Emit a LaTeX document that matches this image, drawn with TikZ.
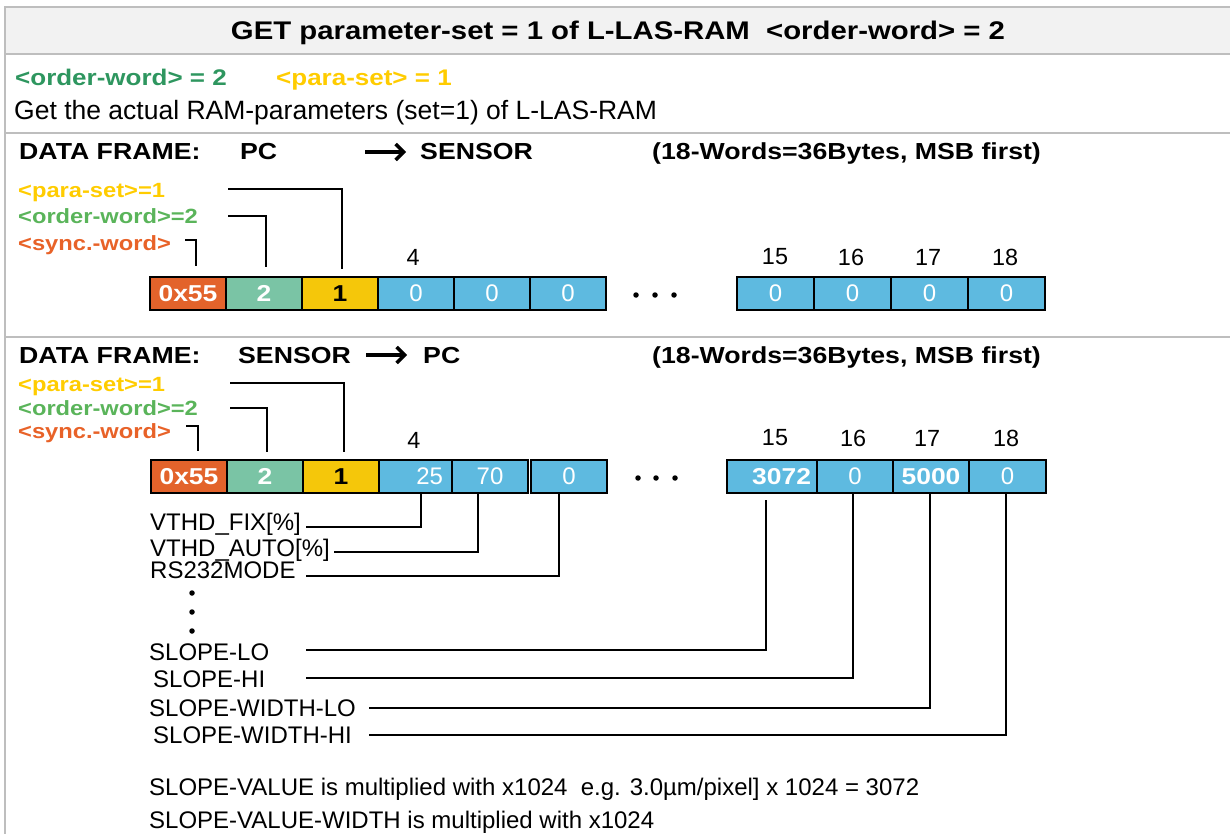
\documentclass[tikz,border=0pt]{standalone}
\usepackage{fontspec}
\setmainfont{Liberation Sans}
\newfontfamily\widefont{Liberation Sans}[FakeStretch=1.15]
\usepackage{tikz}
\usetikzlibrary{positioning,arrows.meta}

\definecolor{ruleGray}{RGB}{190,190,190}
\definecolor{headGray}{RGB}{242,242,242}
\definecolor{ordGreen}{RGB}{46,150,95}
\definecolor{setYellow}{RGB}{255,204,0}
\definecolor{lblGreen}{RGB}{90,180,90}
\definecolor{lblOrange}{RGB}{232,98,40}
\definecolor{cOrange}{RGB}{227,99,43}
\definecolor{cGreen}{RGB}{122,196,165}
\definecolor{cYellow}{RGB}{245,199,10}
\definecolor{cBlue}{RGB}{94,186,224}

\begin{document}
\begin{tikzpicture}[
  x=1pt, y=-1pt, >=Stealth,
  rule/.style={draw=ruleGray, line width=2pt},
  txt/.style={anchor=base west, inner sep=0pt, font=\fontsize{24}{28}\selectfont},
  bold/.style={anchor=base west, inner sep=0pt, font=\widefont\bfseries\fontsize{23.2}{28}\selectfont},
  lbl/.style={anchor=base west, inner sep=0pt, font=\widefont\bfseries\fontsize{20.6}{24}\selectfont},
  idx/.style={inner sep=0pt, font=\fontsize{23.4}{28}\selectfont},
  cell/.style={draw=black, line width=2.8pt, minimum height=33pt, inner sep=0pt,
               text=white, font=\fontsize{24}{28}\selectfont},
  bcell/.style={cell, font=\widefont\bfseries\fontsize{23}{28}\selectfont},
  dot/.style={circle, fill=black, inner sep=0pt, minimum size=5.5pt},
  lead/.style={line width=1.3pt},
  arr/.style={-{Straight Barb[length=8pt,width=16pt,line width=3.5pt]}, line width=3.8pt},
]
\useasboundingbox (0,0) rectangle (1230,834);

% frame
\draw[rule, fill=headGray] (5,7) rectangle (1240,54);
\draw[rule] (5,7) -- (5,840);
\draw[rule] (5,133) -- (1240,133);
\draw[rule] (5,337) -- (1240,337);

\node[anchor=base, inner sep=0pt, font=\widefont\bfseries\fontsize{25.5}{30}\selectfont]
  (title) at (618,40) {GET parameter-set = 1 of L-LAS-RAM\ \ <order-word> = 2};
\node[bold, text=ordGreen, font=\widefont\bfseries\fontsize{22.6}{26}\selectfont] (ow) at (15,86) {<order-word> = 2};
\node[bold, text=setYellow, font=\widefont\bfseries\fontsize{22.6}{26}\selectfont] (ps) at (276,86) {<para-set> = 1};
\node[txt, font=\fontsize{26.5}{30}\selectfont] (desc) at (14,119.5) {Get the actual RAM-parameters (set=1) of L-LAS-RAM};

% PC -> SENSOR
\node[bold] (df1) at (19,160) {DATA FRAME:};
\node[bold] (pc1) at (240,160) {PC};
\node[bold] (sn1) at (420,160) {SENSOR};
\node[bold] (sz1) at (652,160) {(18-Words=36Bytes, MSB first)};
\coordinate (ar1a) at (365,152);
\coordinate (ar1b) at (406,152);
\draw[arr] (ar1a) -- (ar1b);

\node[lbl, text=setYellow] (lp1) at (18,197.5) {<para-set>=1};
\node[lbl, text=lblGreen] (lo1) at (18,224) {<order-word>=2};
\node[lbl, text=lblOrange] (ls1) at (18,250.5) {<sync.-word>};

\node[bcell, fill=cOrange, minimum width=76pt] (a1) at (188,293.5) {0x55};
\node[bcell, fill=cGreen, minimum width=76pt] (a2) at (264,293.5) {2};
\node[bcell, fill=cYellow, text=black, minimum width=76pt] (a3) at (340,293.5) {1};
\node[cell, fill=cBlue, minimum width=76pt] (a4) at (416,293.5) {0};
\node[cell, fill=cBlue, minimum width=76pt] (a5) at (492,293.5) {0};
\node[cell, fill=cBlue, minimum width=76pt] (a6) at (568,293.5) {0};
\node[cell, fill=cBlue, minimum width=77pt] (a15) at (775.5,293.5) {0};
\node[cell, fill=cBlue, minimum width=77pt] (a16) at (852.5,293.5) {0};
\node[cell, fill=cBlue, minimum width=77pt] (a17) at (929.5,293.5) {0};
\node[cell, fill=cBlue, minimum width=77pt] (a18) at (1006.5,293.5) {0};

\node[idx] (n4a) at (413,257) {4};
\node[idx] (n15a) at (775,257) {15};
\node[idx] (n16a) at (851,257) {16};
\node[idx] (n17a) at (928,257) {17};
\node[idx] (n18a) at (1005,257) {18};
\node[dot] (da1) at (636,295) {};
\node[dot] (da2) at (655,295) {};
\node[dot] (da3) at (674,295) {};

\coordinate (lp1e) at (228,189);
\coordinate (lo1e) at (228,216);
\coordinate (ls1e) at (185,240);
\draw[lead] (lp1e) -| ([xshift=2pt,yshift=7pt]a3.north);
\draw[lead] (lo1e) -| ([xshift=2pt,yshift=9pt]a2.north);
\draw[lead] (ls1e) -| ([xshift=8pt,yshift=10pt]a1.north);

% SENSOR -> PC
\node[bold] (df2) at (19,363) {DATA FRAME:};
\node[bold] (sn2) at (238,363) {SENSOR};
\node[bold] (pc2) at (423,363) {PC};
\node[bold] (sz2) at (652,363) {(18-Words=36Bytes, MSB first)};
\coordinate (ar2a) at (366,355);
\coordinate (ar2b) at (407,355);
\draw[arr] (ar2a) -- (ar2b);

\node[lbl, text=setYellow] (lp2) at (18,391.5) {<para-set>=1};
\node[lbl, text=lblGreen] (lo2) at (18,415.5) {<order-word>=2};
\node[lbl, text=lblOrange] (ls2) at (18,438.5) {<sync.-word>};

\node[bcell, fill=cOrange, minimum width=76pt] (b1) at (189,476.5) {0x55};
\node[bcell, fill=cGreen, minimum width=76pt] (b2) at (265,476.5) {2};
\node[bcell, fill=cYellow, text=black, minimum width=76pt] (b3) at (341,476.5) {1};
\node[cell, fill=cBlue, minimum width=76pt, text width=52pt, align=right] (b4) at (417,476.5) {25};
\node[cell, fill=cBlue, minimum width=76pt] (b5) at (490,476.5) {70};
\node[cell, fill=cBlue, minimum width=76pt] (b6) at (569,476.5) {0};
\node[bcell, fill=cBlue, minimum width=90pt, text width=78pt, align=right] (b15) at (772,476.5) {3072};
\node[cell, fill=cBlue, minimum width=76pt] (b16) at (855,476.5) {0};
\node[bcell, fill=cBlue, minimum width=76pt] (b17) at (931,476.5) {5000};
\node[cell, fill=cBlue, minimum width=77pt] (b18) at (1007.5,476.5) {0};

\node[idx] (n4b) at (414,440) {4};
\node[idx] (n15b) at (775,438) {15};
\node[idx] (n16b) at (853,438) {16};
\node[idx] (n17b) at (927,438) {17};
\node[idx] (n18b) at (1006,438) {18};
\node[dot] (db1) at (638,478) {};
\node[dot] (db2) at (656,478) {};
\node[dot] (db3) at (675,478) {};

\coordinate (lp2e) at (230,383);
\coordinate (lo2e) at (230,408);
\coordinate (ls2e) at (186,426);
\draw[lead] (lp2e) -| ([xshift=3pt,yshift=7pt]b3.north);
\draw[lead] (lo2e) -| ([xshift=2pt,yshift=7pt]b2.north);
\draw[lead] (ls2e) -| ([xshift=9pt,yshift=8pt]b1.north);

% parameter names
\node[txt] (vfix) at (150,530.5) {VTHD\_FIX[\%]};
\node[txt] (vauto) at (150,556.5) {VTHD\_AUTO[\%]};
\node[txt] (rsmode) at (150,578.5) {RS232MODE};
\node[dot] (dv1) at (192,593) {};
\node[dot] (dv2) at (192,612) {};
\node[dot] (dv3) at (192,631) {};
\node[txt] (slo) at (149,660.5) {SLOPE-LO};
\node[txt] (shi) at (153,687.5) {SLOPE-HI};
\node[txt] (swlo) at (149,716.5) {SLOPE-WIDTH-LO};
\node[txt] (swhi) at (153,743.5) {SLOPE-WIDTH-HI};

\coordinate (vfixe) at (306,527);
\coordinate (vautoe) at (334,552);
\coordinate (rsmodee) at (306,576);
\coordinate (sloe) at (306,650);
\coordinate (shie) at (306,678);
\coordinate (swloe) at (369,708);
\coordinate (swhie) at (369,735);
\draw[lead] (vfixe) -| ([xshift=4pt]b4.south);
\draw[lead] (vautoe) -| ([xshift=-12pt]b5.south);
\draw[lead] (rsmodee) -| ([xshift=-10pt]b6.south);
\draw[lead] (sloe) -| ([xshift=-6pt,yshift=-6pt]b15.south);
\draw[lead] (shie) -| ([xshift=-2pt]b16.south);
\draw[lead] (swloe) -| ([xshift=-1pt]b17.south);
\draw[lead] (swhie) -| ([xshift=-1.5pt]b18.south);

\node[txt] (note1) at (149,795) {SLOPE-VALUE is multiplied with x1024\ \ e.g. 3.0µm/pixel] x 1024 = 3072};
\node[txt] (note2) at (149,828) {SLOPE-VALUE-WIDTH is multiplied with x1024};
\end{tikzpicture}
\end{document}
